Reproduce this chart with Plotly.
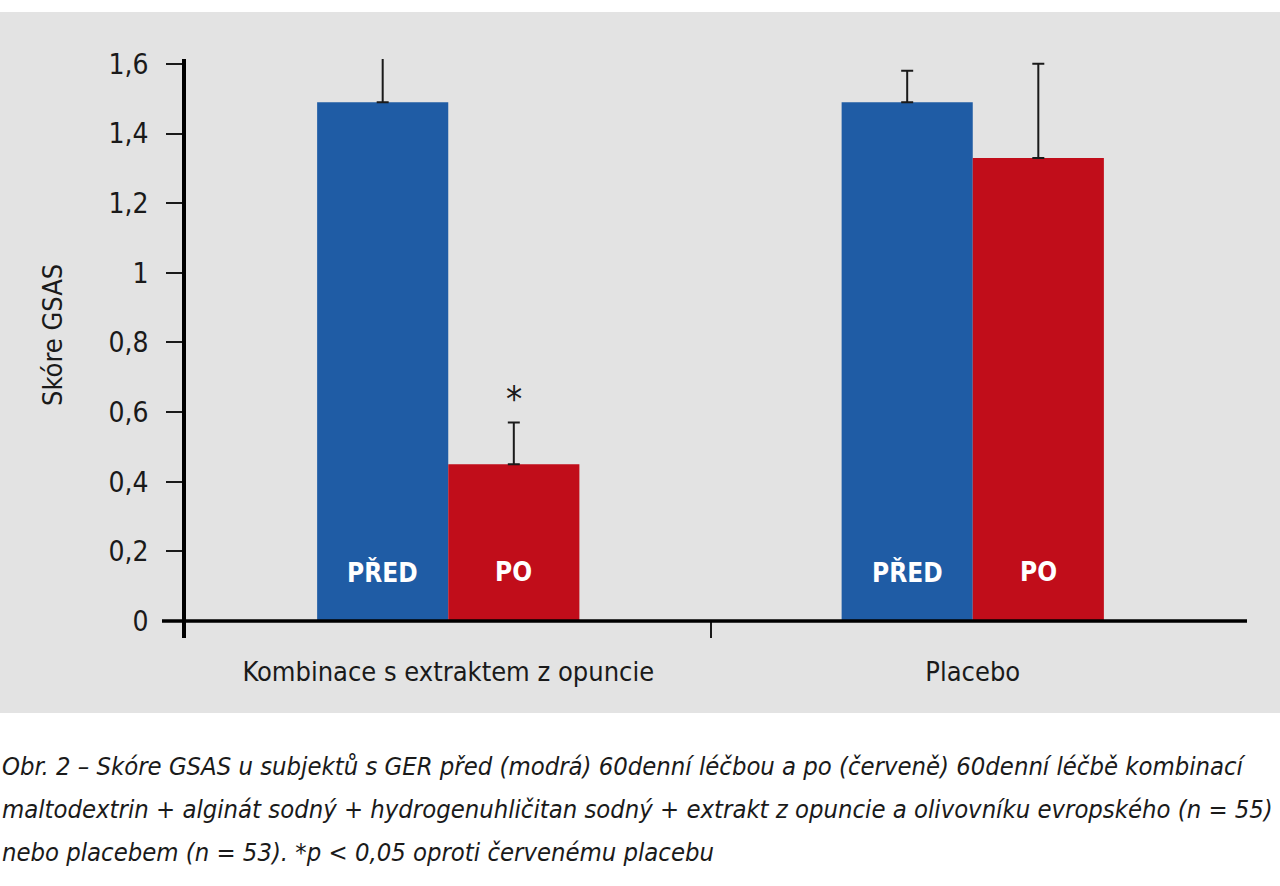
import plotly.graph_objects as go

# data
groups = ["Kombinace s extraktem z opuncie", "Placebo"]
pred_values = [1.49, 1.49]
pred_errors = [0.15, 0.09]
po_values = [0.45, 1.33]
po_errors = [0.12, 0.27]
y_ticks = [0, 0.2, 0.4, 0.6, 0.8, 1.0, 1.2, 1.4, 1.6]
y_tick_labels = ["0", "0,2", "0,4", "0,6", "0,8", "1", "1,2", "1,4", "1,6"]

caption_lines = [
    "Obr. 2 – Skóre GSAS u subjektů s GER před (modrá) 60denní léčbou a po (červeně) 60denní léčbě kombinací",
    "maltodextrin + alginát sodný + hydrogenuhličitan sodný + extrakt z opuncie a olivovníku evropského (n = 55)",
    "nebo placebem (n = 53). *p < 0,05 oproti červenému placebu",
]

BLUE = "#1f5ca5"
RED = "#c10d1a"
GRAY = "#e3e3e3"
INK = "#1a1a1a"
FONT = "DejaVu Sans Condensed, Liberation Sans Narrow, sans-serif"

W, H = 1280, 886
L, R, T, B = 186, 45, 59, 248
pw, ph = W - L - R, H - T - B


def px_x(p):
    return (p - L) / pw


def px_y(p):
    return (H - B - p) / ph


fig = go.Figure()

fig.add_trace(go.Bar(
    name="PŘED", x=groups, y=pred_values, marker_color=BLUE, marker_line_width=0,
    error_y=dict(type="data", array=pred_errors, arrayminus=[0, 0], symmetric=False,
                 color=INK, thickness=2, width=6),
))
fig.add_trace(go.Bar(
    name="PO", x=groups, y=po_values, marker_color=RED, marker_line_width=0,
    error_y=dict(type="data", array=po_errors, arrayminus=[0, 0], symmetric=False,
                 color=INK, thickness=2, width=6),
))

# labels inside bars
annotations = []
for g in groups:
    annotations.append(dict(x=g, y=0.14, xref="x", yref="y", text="<b>PŘED</b>", showarrow=False,
                            xshift=-65.5, font=dict(size=26, color="white", family=FONT)))
    annotations.append(dict(x=g, y=0.14, xref="x", yref="y", text="<b>PO</b>", showarrow=False,
                            xshift=65.5, font=dict(size=26, color="white", family=FONT)))

# significance star
annotations.append(dict(x=groups[0], y=po_values[0] + po_errors[0], xref="x", yref="y", text="*",
                        showarrow=False, xshift=65.5, yshift=24, font=dict(size=36, color=INK, family=FONT)))

# y title
annotations.append(dict(x=px_x(52), y=px_y(335), xref="paper", yref="paper", text="Skóre GSAS",
                        xanchor="center", yanchor="middle",
                        textangle=-90, showarrow=False, font=dict(size=27, color=INK, family=FONT)))

# caption, one annotation per line
for i, line in enumerate(caption_lines):
    annotations.append(dict(x=px_x(0), y=px_y(766 + 43 * i), xref="paper", yref="paper",
                            xanchor="left", yanchor="middle", align="left",
                            text="<i>" + line + "</i>", showarrow=False,
                            font=dict(size=25.4, color=INK, family=FONT)))

shapes = [
    # grey panel
    dict(type="rect", xref="paper", yref="paper", x0=px_x(0), x1=px_x(W), y0=px_y(713), y1=px_y(12),
         fillcolor=GRAY, line_width=0, layer="below"),
    # baseline at zero
    dict(type="line", xref="paper", yref="y", x0=px_x(162), x1=px_x(1247), y0=0, y1=0,
         line=dict(color="black", width=3.5), layer="above"),
]

fig.update_layout(
    width=W, height=H,
    margin=dict(l=L, r=R, t=T, b=B),
    paper_bgcolor="white",
    plot_bgcolor="rgba(0,0,0,0)",
    barmode="group",
    bargap=0.5,
    bargroupgap=0,
    showlegend=False,
    separators=", ",
    font=dict(family=FONT, size=27, color=INK),
    annotations=annotations,
    shapes=shapes,
)

fig.update_xaxes(
    showgrid=False, zeroline=False, showline=False,
    ticks="inside", ticklen=18, tickwidth=2, tickcolor=INK,
    tickson="boundaries", tickfont=dict(size=27, color=INK, family=FONT),
    ticklabelstandoff=15,
)
fig.update_yaxes(
    range=[-0.0488, 1.614], showgrid=False, zeroline=False,
    showline=True, linecolor="black", linewidth=3.5,
    ticks="outside", ticklen=16, tickwidth=2, tickcolor=INK,
    tickvals=y_ticks, ticktext=y_tick_labels,
    tickfont=dict(size=28, color=INK, family=FONT),
    ticklabelstandoff=12,
)

# page has no body margin so the figure sits at the window corner
fig.write_html("out.html", config={"displayModeBar": False},
               post_script="document.body.style.margin='0';")
